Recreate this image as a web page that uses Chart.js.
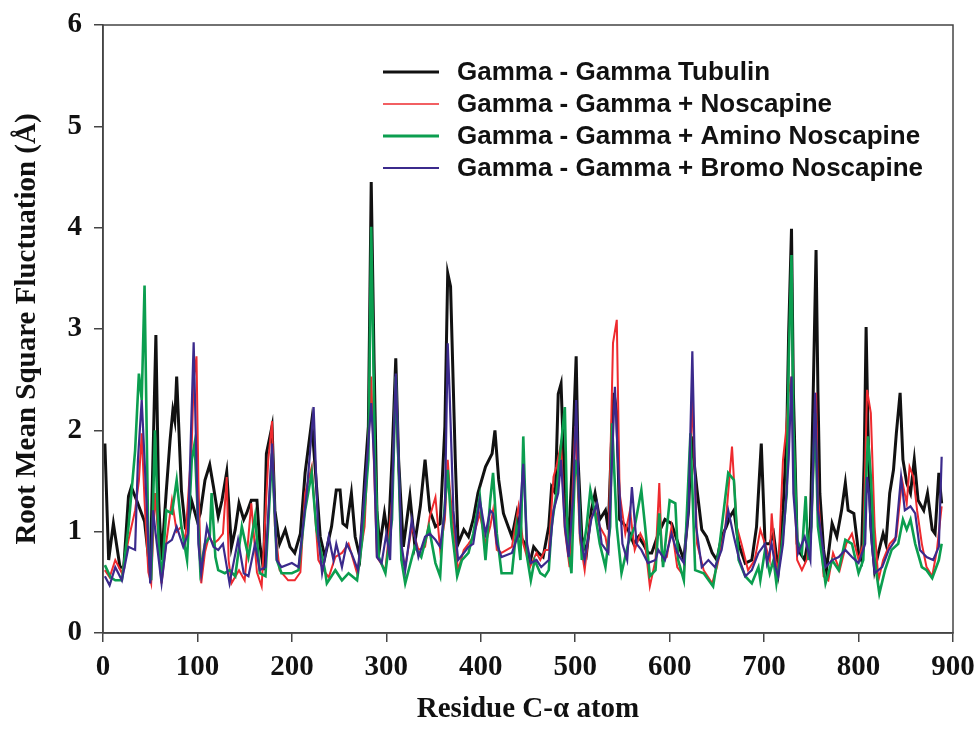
<!DOCTYPE html>
<html>
<head>
<meta charset="utf-8">
<title>RMSF Gamma - Gamma Tubulin</title>
<script src="https://cdn.jsdelivr.net/npm/chart.js@4.4.1/dist/chart.umd.min.js"></script>
<style>
  body { margin: 0; background: #fff; }
  #rmsfChart { display: block; }
</style>
</head>
<body>
<canvas id="rmsfChart" width="979" height="729"></canvas>
<script>
// series labels (legend order)
const seriesLabels = [
  "Gamma - Gamma Tubulin",
  "Gamma - Gamma + Noscapine",
  "Gamma - Gamma + Amino Noscapine",
  "Gamma - Gamma + Bromo Noscapine",
];

// [residue, RMSF in Å]
const tubulin = [
  [2,1.87],[6,0.72],[11,1.08],[18,0.65],[22,0.65],[27,1.35],[30,1.44],[36,1.3],[44,1.1],[50,0.59],
  [56,2.94],[59,1.3],[62,0.72],[67,1.4],[71,1.9],[74,2.2],[76,2.1],[78,2.53],[83,1.41],[87,1.05],
  [90,1.08],[94,1.3],[100,1.1],[103,1.18],[108,1.51],[113,1.66],[117,1.44],[122,1.15],[126,1.31],[131,1.59],
  [136,0.85],[140,1.02],[144,1.28],[149,1.12],[152,1.18],[157,1.31],[163,1.31],[166,0.88],[170,0.62],[173,1.77],
  [179,2.04],[182,1.21],[187,0.88],[193,1.02],[198,0.85],[203,0.79],[209,0.98],[214,1.58],[221,2.09],[224,1.71],
  [230,0.95],[235,0.75],[242,1.05],[247,1.41],[251,1.41],[254,1.08],[258,1.05],[263,1.38],[267,0.95],[272,0.75],
  [277,1.51],[281,2.04],[284,4.45],[287,2.69],[290,1.21],[293,0.85],[298,1.18],[302,0.92],[306,1.71],[310,2.71],
  [313,1.71],[318,0.85],[325,1.35],[330,0.88],[336,1.25],[341,1.71],[346,1.21],[352,1.05],[357,1.08],[362,2.04],
  [365,3.55],[368,3.42],[373,1.71],[376,0.88],[382,1.02],[387,0.95],[392,1.12],[397,1.38],[405,1.64],[412,1.77],
  [415,2.0],[419,1.51],[424,1.18],[429,1.05],[433,0.95],[438,1.18],[442,0.95],[447,0.88],[452,0.69],[456,0.85],
  [461,0.79],[466,0.75],[472,1.05],[475,1.44],[479,1.38],[482,2.36],[485,2.46],[489,1.38],[493,0.88],[497,1.71],
  [501,2.73],[503,1.71],[507,0.95],[512,0.79],[517,1.21],[521,1.38],[526,1.12],[532,1.21],[535,1.02],[539,2.04],
  [541,2.37],[544,2.17],[547,1.12],[551,1.08],[556,1.02],[562,0.88],[567,0.95],[572,0.88],[577,0.79],[581,0.79],
  [588,0.98],[595,1.12],[602,1.08],[609,0.88],[615,0.72],[620,1.21],[623,1.94],[629,1.41],[634,1.02],[639,0.95],
  [645,0.79],[650,0.72],[655,0.95],[660,1.05],[664,1.15],[668,1.21],[673,0.88],[680,0.69],[687,0.72],[692,1.05],
  [697,1.87],[701,0.88],[706,0.88],[710,0.98],[715,0.62],[720,1.21],[724,1.97],[726,2.96],[729,3.99],[731,2.37],
  [735,0.88],[738,0.79],[743,0.72],[749,1.05],[752,2.37],[755,3.78],[757,2.37],[759,1.38],[763,0.82],[766,0.62],
  [772,1.08],[777,0.95],[782,1.21],[786,1.48],[789,1.21],[795,1.18],[800,0.79],[803,0.72],[806,1.71],[808,3.02],
  [810,2.0],[813,1.05],[817,0.62],[821,0.79],[826,0.98],[829,0.88],[833,1.38],[837,1.61],[840,1.97],[844,2.37],
  [847,1.71],[851,1.48],[855,1.38],[859,1.71],[863,1.31],[869,1.21],[873,1.38],[878,1.02],[881,0.98],[885,1.58],
  [888,1.28],
];

const noscapine = [
  [2,0.62],[7,0.55],[13,0.72],[20,0.59],[27,0.92],[34,1.21],[38,1.5],[41,1.97],[44,1.3],[48,0.6],
  [51,0.49],[55,1.38],[59,0.9],[62,0.49],[67,0.9],[73,1.31],[78,1.0],[83,1.05],[87,0.9],[94,1.87],
  [96,2.5],[99,2.73],[101,1.5],[104,0.49],[108,0.8],[112,0.95],[117,0.88],[122,0.92],[127,0.98],[131,1.54],
  [133,0.72],[136,0.49],[144,0.62],[150,0.52],[157,1.28],[163,0.6],[168,0.46],[175,1.71],[179,2.09],[182,1.05],
  [187,0.62],[196,0.52],[203,0.52],[209,0.6],[214,1.38],[221,1.64],[228,0.72],[235,0.6],[239,0.55],[246,0.75],
  [253,0.79],[260,0.88],[269,0.59],[277,1.05],[284,2.53],[290,0.75],[299,0.62],[306,1.3],[310,2.53],[316,0.72],
  [320,0.65],[327,1.05],[334,0.82],[341,0.85],[346,1.15],[352,1.34],[357,0.82],[362,1.12],[365,1.71],[367,1.44],
  [371,1.05],[376,0.62],[382,0.82],[387,0.88],[392,0.95],[399,1.18],[405,0.88],[410,1.05],[413,1.21],[417,0.82],
  [422,0.79],[433,0.85],[440,1.25],[445,0.88],[452,0.65],[459,0.79],[463,0.72],[468,0.82],[472,0.82],[477,1.54],
  [480,1.64],[485,1.87],[489,1.02],[494,0.65],[500,2.04],[505,0.92],[510,0.62],[516,1.12],[521,1.21],[526,1.05],
  [532,0.95],[535,0.79],[540,2.86],[544,3.09],[547,1.38],[553,0.98],[558,1.21],[563,0.82],[569,0.98],[574,0.88],
  [579,0.46],[585,0.72],[589,1.48],[592,0.72],[597,0.75],[602,1.05],[608,0.65],[615,0.56],[622,1.71],[624,2.37],
  [629,0.88],[636,0.62],[645,0.49],[650,0.65],[659,1.05],[666,1.84],[671,1.05],[676,0.88],[683,0.62],[690,0.72],
  [696,1.02],[701,0.88],[706,0.72],[708,1.18],[712,0.72],[715,0.62],[720,1.71],[723,1.97],[726,2.37],[729,2.53],
  [731,1.71],[735,0.72],[740,0.62],[745,0.72],[750,1.05],[755,2.37],[757,1.38],[763,0.56],[768,0.52],[773,0.79],
  [780,0.62],[787,0.88],[793,0.98],[800,0.72],[805,0.88],[809,2.4],[813,2.17],[817,1.05],[821,0.52],[826,0.72],
  [833,0.88],[840,0.95],[846,1.51],[851,1.28],[854,1.64],[858,1.54],[862,1.21],[867,0.88],[872,0.65],[878,0.56],
  [883,0.82],[888,1.25],
];

const aminoNoscapine = [
  [2,0.67],[8,0.55],[13,0.52],[20,0.52],[27,1.05],[34,1.8],[38,2.56],[41,2.3],[44,3.43],[48,0.88],
  [51,0.52],[55,2.0],[59,0.88],[62,0.52],[67,1.21],[73,1.18],[78,1.51],[83,1.05],[89,0.72],[94,1.71],
  [97,1.87],[103,0.62],[108,0.88],[113,0.95],[115,1.38],[119,0.75],[122,0.62],[129,0.59],[134,0.62],[140,0.56],
  [147,1.05],[154,0.75],[161,1.15],[166,0.59],[172,0.56],[179,1.77],[184,0.72],[189,0.59],[200,0.59],[207,0.62],
  [214,1.21],[221,1.58],[226,1.02],[235,0.62],[237,0.49],[246,0.62],[253,0.52],[260,0.59],[269,0.52],[274,0.88],
  [281,1.71],[284,4.01],[288,1.71],[292,0.75],[299,0.59],[306,1.12],[310,2.53],[316,0.72],[320,0.49],[330,0.85],
  [337,0.75],[345,1.05],[352,0.69],[357,0.56],[360,1.05],[365,1.61],[369,1.05],[375,0.56],[380,0.72],[387,0.79],
  [392,0.98],[399,1.35],[405,0.72],[410,1.31],[413,1.58],[417,0.98],[422,0.59],[433,0.59],[438,1.05],[442,0.72],
  [445,1.94],[449,0.75],[453,0.52],[457,0.72],[463,0.59],[468,0.56],[472,0.62],[475,1.05],[480,1.38],[484,1.77],
  [489,2.23],[492,0.88],[496,0.59],[500,1.71],[503,1.54],[507,0.72],[512,1.05],[516,1.41],[521,1.18],[526,0.88],
  [532,0.65],[537,1.05],[539,2.07],[544,1.05],[549,0.59],[556,0.88],[563,1.05],[570,1.41],[574,1.05],[579,0.56],
  [585,0.62],[589,1.18],[593,0.65],[600,1.31],[606,1.28],[609,0.72],[615,0.52],[622,1.97],[627,0.62],[636,0.59],
  [646,0.46],[653,0.88],[662,1.58],[668,1.51],[673,0.72],[680,0.56],[687,0.49],[694,0.65],[696,0.52],[701,0.82],
  [706,0.59],[710,0.72],[713,0.49],[719,0.88],[724,1.38],[726,2.69],[729,3.73],[731,2.04],[735,0.92],[740,0.79],
  [744,1.35],[747,0.72],[750,1.05],[754,2.17],[757,1.05],[765,0.49],[772,0.72],[779,0.62],[786,0.92],[793,0.88],
  [800,0.59],[805,0.72],[808,1.5],[810,1.94],[813,1.54],[817,0.72],[822,0.39],[828,0.62],[835,0.82],[842,0.88],
  [847,1.12],[851,1.02],[855,1.12],[860,0.88],[867,0.65],[872,0.62],[878,0.54],[885,0.72],[888,0.88],
];

const bromoNoscapine = [
  [2,0.56],[7,0.47],[13,0.65],[20,0.52],[27,0.85],[34,0.82],[37,1.71],[41,2.3],[44,1.71],[50,0.49],
  [53,1.21],[57,0.88],[62,0.49],[67,0.88],[73,0.92],[78,1.05],[85,0.85],[90,0.98],[96,2.87],[101,0.88],
  [104,0.59],[110,1.05],[113,0.95],[117,0.85],[122,0.82],[127,0.88],[134,0.49],[143,0.92],[149,0.59],[154,0.56],
  [161,0.88],[166,0.62],[172,0.65],[179,1.87],[184,0.72],[189,0.65],[200,0.69],[207,0.65],[216,1.41],[223,2.23],
  [228,0.95],[232,0.59],[239,0.95],[244,0.72],[247,0.88],[253,0.65],[258,0.88],[263,0.79],[270,0.62],[277,1.38],
  [284,2.27],[287,1.71],[290,0.75],[295,0.69],[300,0.98],[304,0.72],[310,2.56],[316,0.88],[320,0.62],[327,1.12],
  [334,0.75],[341,0.95],[346,0.98],[352,0.92],[357,0.85],[362,1.21],[365,2.86],[367,2.37],[371,1.21],[376,0.72],
  [382,0.79],[387,0.85],[392,0.88],[399,1.31],[405,0.98],[410,1.21],[413,1.18],[417,0.88],[422,0.75],[433,0.79],
  [440,0.98],[445,1.67],[449,0.88],[453,0.69],[459,0.72],[464,0.65],[472,0.72],[477,1.21],[482,1.38],[485,1.71],
  [489,1.05],[493,0.75],[498,1.38],[501,2.3],[505,0.98],[510,0.72],[517,1.12],[523,1.28],[528,0.88],[535,0.79],
  [539,1.71],[542,2.43],[546,1.54],[550,0.88],[555,0.72],[560,1.44],[565,0.88],[570,0.82],[577,0.69],[585,0.72],
  [588,0.82],[595,0.72],[602,0.98],[608,0.79],[615,0.69],[620,1.21],[624,2.78],[628,1.05],[634,0.65],[641,0.72],
  [648,0.65],[655,0.82],[662,1.21],[668,0.95],[673,0.75],[680,0.56],[687,0.62],[694,0.79],[701,0.88],[703,0.69],
  [708,0.88],[712,0.65],[715,0.56],[720,0.88],[726,1.71],[729,2.53],[731,1.38],[736,0.79],[743,0.95],[749,0.72],
  [752,1.71],[754,2.37],[757,1.21],[765,0.65],[772,0.72],[779,0.75],[786,0.82],[793,0.75],[800,0.69],[807,0.88],
  [809,1.54],[811,1.38],[814,0.88],[817,0.59],[825,0.65],[832,0.82],[839,0.92],[845,1.54],[849,1.21],[855,1.25],
  [860,1.18],[865,0.82],[872,0.75],[879,0.72],[885,0.85],[888,1.74],
];

const seriesData = [tubulin, noscapine, aminoNoscapine, bromoNoscapine];
const seriesColors = ["#111111", "#ee2a2e", "#0b9e4f", "#3b2a8c"];
const seriesWidths = [3, 2, 2.6, 2.2];
// legend line widths look a bit different from the plot lines
const legendWidths = [3, 1.6, 3.2, 2.2];

const serif = "'Liberation Serif', 'Times New Roman', serif";
const sans = "'Liberation Sans', Arial, sans-serif";

// draws the frame round the plot and the legend inside it
const frameAndLegend = {
  id: "frameAndLegend",
  afterDatasetsDraw(chart) {
    const { ctx, chartArea } = chart;
    ctx.save();
    ctx.strokeStyle = "#444";
    ctx.lineWidth = 1.5;
    ctx.strokeRect(chartArea.left, chartArea.top, chartArea.right - chartArea.left, chartArea.bottom - chartArea.top);

    const lx = chartArea.left + 280;
    const ly = chartArea.top + 47;
    ctx.font = "bold 26px " + sans;
    ctx.textBaseline = "middle";
    seriesLabels.forEach((label, i) => {
      const y = ly + i * 32;
      ctx.strokeStyle = seriesColors[i];
      ctx.lineWidth = legendWidths[i];
      ctx.beginPath();
      ctx.moveTo(lx, y);
      ctx.lineTo(lx + 56, y);
      ctx.stroke();
      ctx.fillStyle = "#111";
      ctx.fillText(label, lx + 74, y + 1);
    });
    ctx.restore();
  },
};

const ctx = document.getElementById("rmsfChart");

new Chart(ctx, {
  type: "line",
  data: {
    datasets: seriesData.map((points, i) => ({
      label: seriesLabels[i],
      data: points.map((p) => ({ x: p[0], y: p[1] })),
      borderColor: seriesColors[i],
      borderWidth: seriesWidths[i],
      pointRadius: 0,
      tension: 0,
      fill: false,
      order: 4 - i, // bromo drawn on top, tubulin underneath
    })),
  },
  options: {
    responsive: false,
    animation: false,
    layout: { padding: { left: 0, right: 26, top: 25, bottom: 0 } },
    plugins: {
      legend: { display: false },
      tooltip: { enabled: false },
    },
    scales: {
      x: {
        type: "linear",
        min: 0,
        max: 900,
        ticks: {
          stepSize: 100,
          color: "#111",
          padding: 8,
          font: { family: serif, size: 29, weight: "bold" },
        },
        grid: { drawOnChartArea: false, drawTicks: true, tickLength: 9, color: "#444", lineWidth: 1.5 },
        border: { display: true, color: "#444", width: 1.5 },
        title: {
          display: true,
          text: "Residue C-\u03b1 atom",
          color: "#111",
          padding: { top: 0, bottom: 2 },
          font: { family: serif, size: 29, weight: "bold" },
        },
        afterFit: (scale) => {
          scale.height = 96;
          // let the layout padding alone decide the plot edges
          scale.paddingLeft = 0;
          scale.paddingRight = 0;
        },
      },
      y: {
        min: 0,
        max: 6,
        ticks: {
          stepSize: 1,
          color: "#111",
          padding: 12,
          font: { family: serif, size: 29, weight: "bold" },
        },
        grid: { drawOnChartArea: false, drawTicks: true, tickLength: 9, color: "#444", lineWidth: 1.5 },
        border: { display: true, color: "#444", width: 1.5 },
        title: {
          display: true,
          text: "Root Mean Square Fluctuation (\u00c5)",
          color: "#111",
          padding: { top: 10, bottom: 4 },
          font: { family: serif, size: 29, weight: "bold" },
        },
        afterFit: (scale) => {
          scale.width = 103;
          scale.paddingTop = 0;
          scale.paddingBottom = 0;
        },
      },
    },
  },
  plugins: [frameAndLegend],
});
</script>
</body>
</html>
